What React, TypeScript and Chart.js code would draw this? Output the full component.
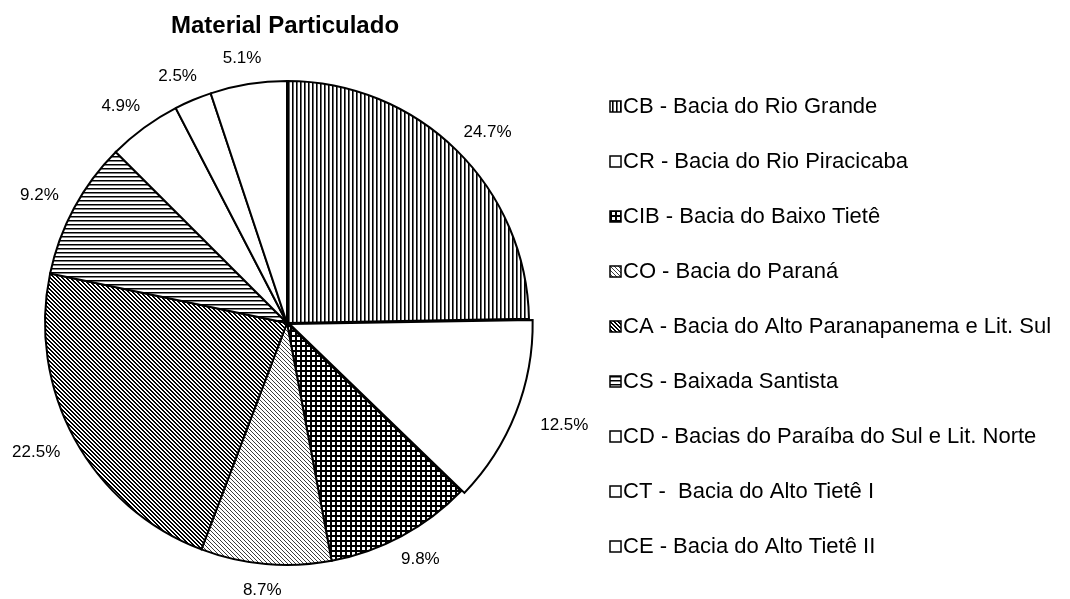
import React, { useEffect, useRef } from "react";
import { Chart, registerables } from "chart.js";

Chart.register(...registerables);

const titleText = "Material Particulado";
const codes = ["CB", "CR", "CIB", "CO", "CA", "CS", "CD", "CT", "CE"];
const legendNames = [
  "CB - Bacia do Rio Grande",
  "CR - Bacia do Rio Piracicaba",
  "CIB - Bacia do Baixo Tietê",
  "CO - Bacia do Paraná",
  "CA - Bacia do Alto Paranapanema e Lit. Sul",
  "CS - Baixada Santista",
  "CD - Bacias do Paraíba do Sul e Lit. Norte",
  "CT -  Bacia do Alto Tietê I",
  "CE - Bacia do Alto Tietê II",
];
const shares = [24.7, 12.5, 9.8, 8.7, 22.5, 9.2, 4.9, 2.5, 5.1];
const explode = [0, 12, 0, 0, 0, 0, 0, 0, 0];
const patternKinds = ["vertical", "none", "grid", "dots", "diagonal", "horizontal", "none", "none", "none"];

const FONT = '"Liberation Sans", Arial, Helvetica, sans-serif';

function makePattern(kind: string): any {
  if (kind === "none") return "#ffffff";
  const c = document.createElement("canvas");
  let s = 4;
  if (kind === "grid") s = 5;
  c.width = s;
  c.height = s;
  const g = c.getContext("2d")!;
  g.fillStyle = "#ffffff";
  g.fillRect(0, 0, s, s);
  g.fillStyle = "#000000";
  if (kind === "vertical") {
    g.fillRect(0, 0, 1.6, s);
  } else if (kind === "horizontal") {
    g.fillRect(0, 0, s, 1.5);
  } else if (kind === "grid") {
    g.fillRect(0, 0, s, 2);
    g.fillRect(0, 0, 2, s);
  } else if (kind === "diagonal") {
    for (let i = 0; i < s; i++) {
      g.fillRect(i, i, 1, 1);
      g.fillRect((i + 1) % s, i, 1, 1);
    }
  } else if (kind === "dots") {
    g.fillStyle = "#3c3c3c";
    for (let i = 0; i < s; i++) {
      g.fillRect(i, i, 1, 1);
    }
  }
  const p = document.createElement("canvas").getContext("2d")!.createPattern(c, "repeat");
  return p;
}

const overlayPlugin = {
  id: "overlay",
  afterDraw(chart: any) {
    const ctx = chart.ctx as CanvasRenderingContext2D;
    const meta = chart.getDatasetMeta(0);
    const ds = chart.data.datasets[0];
    ctx.save();
    ctx.fillStyle = "#000";
    // title
    ctx.font = `bold 24px ${FONT}`;
    ctx.textAlign = "center";
    ctx.textBaseline = "middle";
    const cx = meta.data[0].x;
    ctx.fillText(titleText, cx - 2, 26);

    // percentage labels
    ctx.font = `17px ${FONT}`;
    meta.data.forEach((arc: any, i: number) => {
      const p = arc.getProps(["x", "y", "startAngle", "endAngle", "outerRadius"], true);
      const mid = (p.startAngle + p.endAngle) / 2;
      const r = p.outerRadius + explode[i] + 20;
      const ax = p.x + Math.cos(mid) * r;
      const ay = p.y + Math.sin(mid) * r;
      const txt = shares[i].toFixed(1) + "%";
      const w = ctx.measureText(txt).width;
      const h = 12;
      ctx.fillText(txt, ax + (Math.cos(mid) * w) / 2, ay + (Math.sin(mid) * h) / 2);
    });

    // legend
    ctx.font = `22px ${FONT}`;
    ctx.textAlign = "left";
    ctx.textBaseline = "middle";
    const lx = 610;
    const top = 106;
    const step = 55;
    legendNames.forEach((name, i) => {
      const y = top + i * step;
      ctx.fillStyle = ds.backgroundColor[i];
      ctx.fillRect(lx, y - 5, 11, 11);
      ctx.strokeStyle = "#000";
      ctx.lineWidth = 1.5;
      ctx.strokeRect(lx, y - 5, 11, 11);
      ctx.fillStyle = "#000";
      ctx.fillText(name, lx + 13, y + 1);
    });
    ctx.restore();
  },
};

export default function App() {
  const ref = useRef<HTMLCanvasElement | null>(null);
  useEffect(() => {
    if (!ref.current) return;
    const chart = new Chart(ref.current, {
      type: "pie",
      data: {
        labels: codes,
        datasets: [
          {
            data: shares,
            backgroundColor: patternKinds.map(makePattern),
            borderColor: "#000000",
            borderWidth: 2,
            borderJoinStyle: "miter",
            offset: explode,
            radius: 242,
          } as any,
        ],
      },
      options: {
        responsive: false,
        animation: false,
        events: [],
        layout: { padding: { left: 45, top: 81, right: 541, bottom: 34 } },
        plugins: {
          legend: { display: false },
          tooltip: { enabled: false },
          title: { display: false },
        },
      } as any,
      plugins: [overlayPlugin],
    });
    return () => chart.destroy();
  }, []);
  return (
    <div style={{ position: "absolute", left: 0, top: 0, width: 1070, height: 599, background: "#fff" }}>
      <canvas ref={ref} width={1070} height={599} />
    </div>
  );
}
